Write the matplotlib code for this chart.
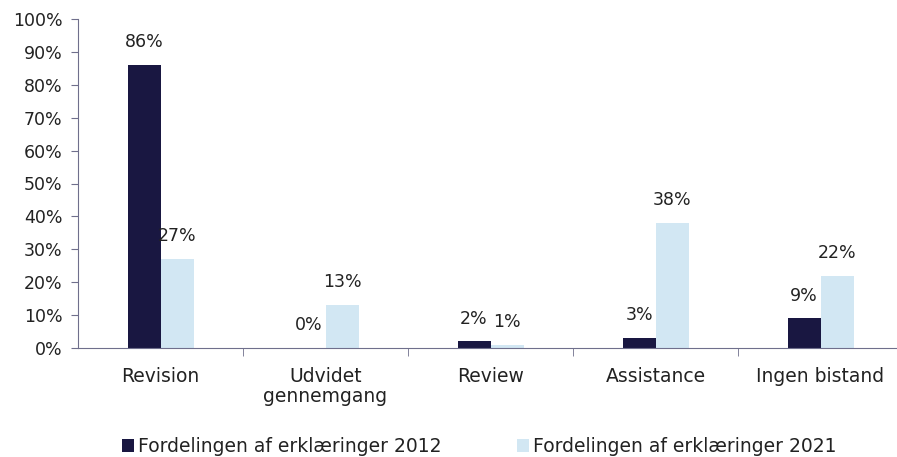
import matplotlib.pyplot as plt
import numpy as np

categories = ["Revision", "Udvidet\ngennemgang", "Review", "Assistance", "Ingen bistand"]
vals_2012 = [86, 0, 2, 3, 9]
vals_2021 = [27, 13, 1, 38, 22]
labels = ["Fordelingen af erklæringer 2012", "Fordelingen af erklæringer 2021"]

dark = "#191741"
light = "#d2e7f3"
axcol = "#6f6f8c"

plt.rcParams['font.family'] = ['DejaVu Sans']

fig = plt.figure(figsize=(8.97, 4.57), dpi=100)
ax = fig.add_axes([78/897, 109/457, 825/897, 329/457])

x = np.arange(len(categories))
w = 0.2
b1 = ax.bar(x - w/2, vals_2012, w, color=dark, label=labels[0])
b2 = ax.bar(x + w/2, vals_2021, w, color=light, label=labels[1])

for bars, vals in ((b1, vals_2012), (b2, vals_2021)):
    for rect, v in zip(bars, vals):
        ax.annotate(f"{v}%", (rect.get_x() + rect.get_width()/2, v),
                    xytext=(0, 10), textcoords="offset points",
                    ha="center", va="bottom", fontsize=12.5, color="#222222")

ax.set_xlim(-0.5, len(categories) - 0.5)
ax.set_ylim(0, 100)
ax.set_yticks(range(0, 101, 10))
ax.set_yticklabels([f"{t}%" for t in range(0, 101, 10)], fontsize=12.5, color="#222222")

ax.set_xticks(x)
ax.set_xticklabels(categories, fontsize=13.5, color="#222222", linespacing=1.05)
ax.tick_params(axis="x", length=0, pad=14)
ax.set_xticks(np.arange(0.5, len(categories) - 0.5, 1), minor=True)
ax.tick_params(axis="x", which="minor", length=6, color=axcol, direction="out")
ax.tick_params(axis="y", length=5, color=axcol, pad=6)

for s in ("top", "right"):
    ax.spines[s].set_visible(False)
ax.spines["left"].set_color(axcol)
ax.spines["bottom"].set_color(axcol)

fig.legend(handles=[b1, b2], labels=labels, loc="lower center",
           bbox_to_anchor=(0.534, -0.035), ncol=2, frameon=False,
           fontsize=13.5, handlelength=0.65, handleheight=0.65,
           handletextpad=0.2, columnspacing=4.05, labelcolor="#222222")

fig.savefig("out.png", dpi=100)
